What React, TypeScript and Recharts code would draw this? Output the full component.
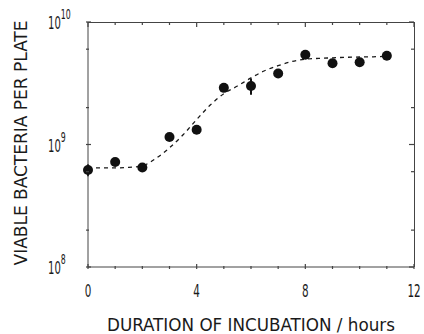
import { ComposedChart, Line, XAxis, YAxis, ErrorBar } from 'recharts'

// measured points
const hours = [0, 1, 2, 3, 4, 5, 6, 7, 8, 9, 10, 11]
const viable = [6.2e8, 7.2e8, 6.5e8, 1.15e9, 1.32e9, 2.9e9, 3.0e9, 3.8e9, 5.4e9, 4.6e9, 4.7e9, 5.3e9]
const viableErr = [0.7e8, 0, 0, 0, 0, 0, 0.45e9, 0, 0, 0, 0, 0]

// fitted growth curve (dashed)
const fitHours = [0, 0.5, 1, 1.5, 2, 2.5, 3, 3.5, 4, 4.5, 5, 5.5, 6, 6.5, 7, 7.5, 8, 8.5, 9, 9.5, 10, 10.5, 11]
const fitCounts = [
  6.45e8, 6.45e8, 6.45e8, 6.5e8, 6.7e8, 7.7e8, 9.4e8, 1.2e9, 1.6e9, 2.1e9, 2.6e9, 3.0e9,
  3.5e9, 4.0e9, 4.4e9, 4.75e9, 4.97e9, 5.05e9, 5.1e9, 5.15e9, 5.18e9, 5.2e9, 5.25e9,
]

const xTicks = [0, 1, 2, 3, 4, 5, 6, 7, 8, 9, 10, 11, 12]
const xLabeled = [0, 4, 8, 12]
const yTicks = [1e8, 2e8, 4e8, 6e8, 1e9, 2e9, 4e9, 6e9, 1e10]
const X_MAX = 12
const Y_MIN = 1e8
const Y_MAX = 1e10

const points = hours.map((h, i) => ({ hour: h, count: viable[i], err: viableErr[i] }))
const fit = fitHours.map((h, i) => ({ hour: h, count: fitCounts[i] }))

const W = 424
const H = 334
const MARGIN = { top: 22, right: 10, bottom: 0, left: 0 }
const Y_AXIS_W = 88
const X_AXIS_H = 67
const PLOT_TOP = MARGIN.top
const PLOT_LEFT = MARGIN.left + Y_AXIS_W
const PLOT_RIGHT = W - MARGIN.right
const PLOT_BOTTOM = H - MARGIN.bottom - X_AXIS_H

const FONT = "'DejaVu Sans Condensed', 'DejaVu Sans', sans-serif"
const INK = '#1a1a1a'
const AXIS = '#444'

const isDecade = (v: number) => Math.abs(Math.log10(v) - Math.round(Math.log10(v))) < 1e-6
const tickLen = (major: boolean) => (major ? 5 : 3)

// bottom ticks also draw the matching inward tick on the top side
const BottomTick = ({ x, y, payload }: any) => {
  const v = payload.value
  const major = xLabeled.includes(v)
  return (
    <g>
      <line x1={x} x2={x} y1={y} y2={y - tickLen(major)} stroke={AXIS} strokeWidth={1.2} />
      <line x1={x} x2={x} y1={PLOT_TOP} y2={PLOT_TOP + tickLen(major)} stroke={AXIS} strokeWidth={1.2} />
      {major && (
        <text
          transform={`translate(${x},${y + 28}) scale(0.64,1)`}
          textAnchor="middle"
          fontFamily={FONT}
          fontSize={18}
          fill={INK}
        >
          {v}
        </text>
      )}
    </g>
  )
}

// left ticks also draw the matching inward tick on the right side
const LeftTick = ({ x, y, payload }: any) => {
  const v = payload.value
  const major = isDecade(v)
  return (
    <g>
      <line x1={x} x2={x + tickLen(major)} y1={y} y2={y} stroke={AXIS} strokeWidth={1.2} />
      <line x1={PLOT_RIGHT} x2={PLOT_RIGHT - tickLen(major)} y1={y} y2={y} stroke={AXIS} strokeWidth={1.2} />
      {major && (
        <text transform={`translate(${x - 38},${y + 7}) scale(0.62,1)`} fontFamily={FONT} fill={INK}>
          <tspan fontSize={18}>10</tspan>
          <tspan fontSize={14} dy={-10}>{Math.round(Math.log10(v))}</tspan>
        </text>
      )}
    </g>
  )
}

const XTitle = ({ viewBox }: any) => (
  <text
    x={viewBox.x + viewBox.width / 2}
    y={viewBox.y + 64}
    textAnchor="middle"
    fontFamily={FONT}
    fontSize={18}
    fill={INK}
    textLength={288}
    lengthAdjust="spacingAndGlyphs"
  >
    DURATION OF INCUBATION / hours
  </text>
)

const YTitle = () => (
  <text
    x={0}
    y={0}
    transform="translate(27, 143) rotate(-90)"
    textAnchor="middle"
    fontFamily={FONT}
    fontSize={18}
    fill={INK}
    textLength={245}
    lengthAdjust="spacingAndGlyphs"
  >
    VIABLE BACTERIA PER PLATE
  </text>
)

export default function App() {
  return (
    <div style={{ position: 'absolute', left: 0, top: 0, width: W, height: H }}>
      <ComposedChart width={W} height={H} margin={MARGIN}>
        <XAxis
          dataKey="hour"
          type="number"
          domain={[0, X_MAX]}
          ticks={xTicks}
          tickSize={0}
          tick={<BottomTick />}
          height={X_AXIS_H}
          stroke={AXIS}
          label={<XTitle />}
        />
        <YAxis
          type="number"
          scale="log"
          domain={[Y_MIN, Y_MAX]}
          ticks={yTicks}
          tickSize={0}
          tick={<LeftTick />}
          width={Y_AXIS_W}
          stroke={AXIS}
          label={<YTitle />}
        />
        <Line
          data={fit}
          dataKey="count"
          type="monotone"
          stroke={INK}
          strokeWidth={1.3}
          strokeDasharray="4 4"
          dot={false}
          activeDot={false}
          isAnimationActive={false}
        />
        {/* measured counts: markers only */}
        <Line
          data={points}
          dataKey="count"
          stroke="none"
          dot={(p: any) => <circle key={p.index} cx={p.cx} cy={p.cy} r={5} fill="#111" />}
          activeDot={false}
          isAnimationActive={false}
        >
          <ErrorBar dataKey="err" direction="y" width={0} stroke="#111" strokeWidth={2} />
        </Line>
      </ComposedChart>
      {/* top and right edges of the frame */}
      <div
        style={{
          position: 'absolute',
          left: PLOT_LEFT,
          top: PLOT_TOP,
          width: PLOT_RIGHT - PLOT_LEFT + 1,
          height: PLOT_BOTTOM - PLOT_TOP,
          borderTop: `1px solid ${AXIS}`,
          borderRight: `1px solid ${AXIS}`,
          boxSizing: 'border-box',
          pointerEvents: 'none',
        }}
      />
    </div>
  )
}
